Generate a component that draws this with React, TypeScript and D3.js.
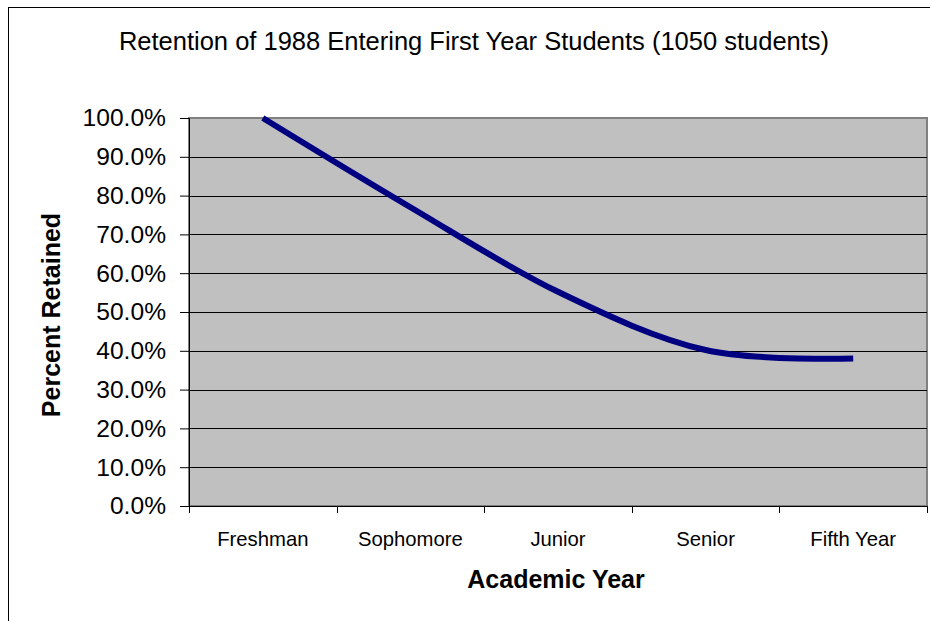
import React, { useEffect, useRef } from "react";
import * as d3 from "d3";

const categories: string[] = ["Freshman", "Sophomore", "Junior", "Senior", "Fifth Year"];
const retained: number[] = [1.0, 0.77, 0.552, 0.402, 0.38];
const yTicks: number[] = [0, 0.1, 0.2, 0.3, 0.4, 0.5, 0.6, 0.7, 0.8, 0.9, 1.0];

const title = "Retention of 1988 Entering First Year Students (1050 students)";
const xTitle = "Academic Year";
const yTitle = "Percent Retained";

const FONT = "'Liberation Sans', Arial, sans-serif";

const RetentionChart: React.FC = () => {
  const svgRef = useRef<SVGSVGElement | null>(null);

  useEffect(() => {
    if (!svgRef.current) return;

    const width = 930;
    const height = 621;
    const plot = { left: 189, right: 927, top: 118, bottom: 506 };

    const svg = d3.select(svgRef.current);
    svg.selectAll("*").remove();
    svg.attr("width", width).attr("height", height);

    // chart area border
    svg.append("rect")
      .attr("x", 8.5).attr("y", 7.5)
      .attr("width", 940).attr("height", 640)
      .attr("fill", "#fff").attr("stroke", "#000").attr("stroke-width", 1);

    const x = d3.scaleBand<string>()
      .domain(categories)
      .range([plot.left, plot.right])
      .padding(0);

    const y = d3.scaleLinear().domain([0, 1]).range([plot.bottom, plot.top]);

    // plot area
    svg.append("rect")
      .attr("x", plot.left).attr("y", plot.top)
      .attr("width", plot.right - plot.left).attr("height", plot.bottom - plot.top)
      .attr("fill", "#c0c0c0").attr("stroke", "#808080").attr("stroke-width", 2);

    // gridlines
    svg.append("g")
      .selectAll("line")
      .data(yTicks.filter((t) => t > 0 && t < 1))
      .enter()
      .append("line")
      .attr("x1", plot.left).attr("x2", plot.right)
      .attr("y1", (d) => Math.round(y(d)) + 0.5).attr("y2", (d) => Math.round(y(d)) + 0.5)
      .attr("stroke", "#000").attr("stroke-width", 1);

    // y axis
    const yAxis = svg.append("g")
      .attr("transform", `translate(${plot.left},0)`)
      .call(d3.axisLeft(y).tickValues(yTicks).tickFormat(d3.format(".1%")).tickSize(9).tickPadding(14));
    yAxis.select(".domain").attr("stroke", "#000");
    yAxis.selectAll(".tick line").attr("stroke", "#000");
    yAxis.selectAll("text")
      .attr("font-family", FONT).attr("font-size", 24.6).attr("fill", "#000");

    // x axis
    svg.append("line")
      .attr("x1", plot.left).attr("x2", plot.right)
      .attr("y1", plot.bottom + 0.5).attr("y2", plot.bottom + 0.5)
      .attr("stroke", "#000");

    const edges = [...categories.map((c) => x(c)!), plot.right];
    svg.append("g")
      .selectAll("line")
      .data(edges)
      .enter()
      .append("line")
      .attr("x1", (d) => Math.round(d) + 0.5).attr("x2", (d) => Math.round(d) + 0.5)
      .attr("y1", plot.bottom).attr("y2", plot.bottom + 7)
      .attr("stroke", "#000");

    svg.append("g")
      .selectAll("text")
      .data(categories)
      .enter()
      .append("text")
      .attr("x", (d) => x(d)! + x.bandwidth() / 2)
      .attr("y", 546)
      .attr("text-anchor", "middle")
      .attr("font-family", FONT).attr("font-size", 20.3)
      .text((d) => d);

    // the line
    const line = d3.line<number>()
      .x((_, i) => x(categories[i])! + x.bandwidth() / 2)
      .y((d) => y(d))
      .curve(d3.curveCardinal.tension(0));

    svg.append("path")
      .datum(retained)
      .attr("d", line)
      .attr("fill", "none")
      .attr("stroke", "#000080")
      .attr("stroke-width", 6);

    // titles
    svg.append("text")
      .attr("x", 474).attr("y", 50)
      .attr("text-anchor", "middle")
      .attr("font-family", FONT).attr("font-size", 25.5)
      .text(title);

    svg.append("text")
      .attr("x", 556).attr("y", 588)
      .attr("text-anchor", "middle")
      .attr("font-family", FONT).attr("font-size", 25).attr("font-weight", "bold")
      .text(xTitle);

    svg.append("text")
      .attr("transform", `translate(60,315) rotate(-90)`)
      .attr("text-anchor", "middle")
      .attr("font-family", FONT).attr("font-size", 25).attr("font-weight", "bold")
      .text(yTitle);
  }, []);

  return <svg ref={svgRef} style={{ position: "absolute", left: 0, top: 0 }}></svg>;
};

export default function App() {
  return <RetentionChart />;
}
